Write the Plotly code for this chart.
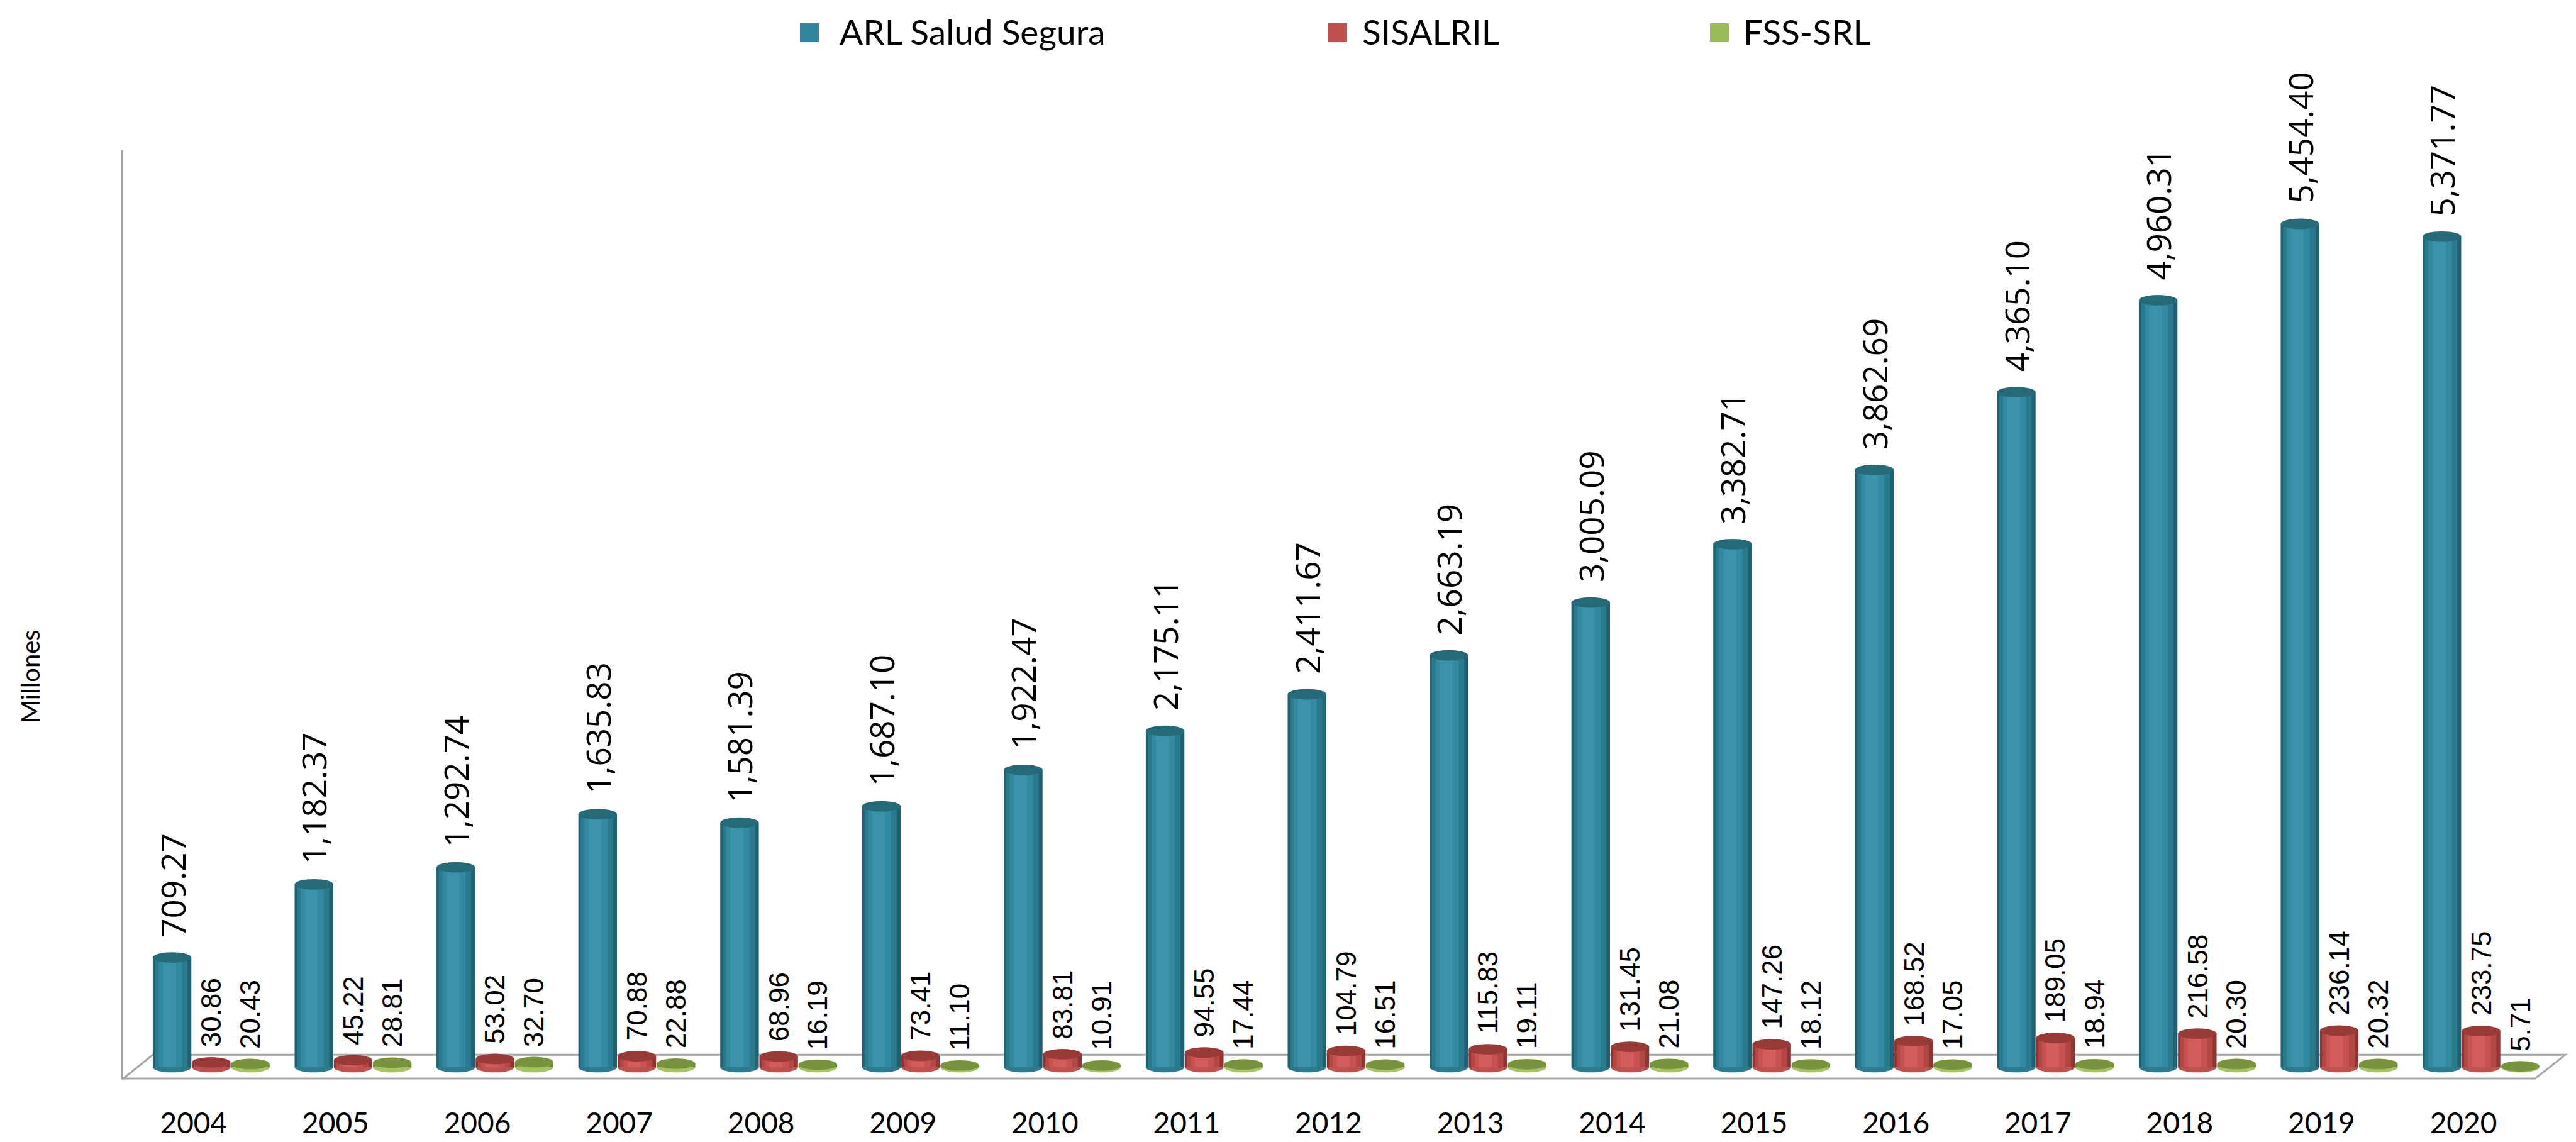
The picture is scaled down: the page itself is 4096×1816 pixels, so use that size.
import plotly.graph_objects as go

# ---------------- data ----------------
years = [str(y) for y in range(2004, 2021)]
arl_salud_segura = [709.27, 1182.37, 1292.74, 1635.83, 1581.39, 1687.10, 1922.47, 2175.11,
                    2411.67, 2663.19, 3005.09, 3382.71, 3862.69, 4365.10, 4960.31, 5454.40, 5371.77]
sisalril = [30.86, 45.22, 53.02, 70.88, 68.96, 73.41, 83.81, 94.55,
            104.79, 115.83, 131.45, 147.26, 168.52, 189.05, 216.58, 236.14, 233.75]
fss_srl = [20.43, 28.81, 32.70, 22.88, 16.19, 11.10, 10.91, 17.44,
           16.51, 19.11, 21.08, 18.12, 17.05, 18.94, 20.30, 20.32, 5.71]
series_names = ["ARL Salud Segura", "SISALRIL", "FSS-SRL"]
y_title = "Millones"

# ---------------- layout constants ----------------
W_PX, H_PX = 4096, 1816
M_L, M_R, M_T, M_B = 188, 25, 231, 94
PLOT_W = W_PX - M_L - M_R
PLOT_H = H_PX - M_T - M_B
X_RANGE = [-0.620, 16.594]
Y_RANGE = [-77.4, 5930]
BAR_STEP = 0.276
BAR_W = 0.272
ELL = 34  # half height of cylinder ellipses (y units)


def px_x(px):
    return (px - M_L) / PLOT_W


def px_y(py):
    return (H_PX - M_B - py) / PLOT_H


styles = [
    dict(layers=["#1f6172", "#2a7a8e", "#3289a0", "#3a93ab"], top="#266a7a", bottom="#2b7a8e",
         legend="#31859c", font=dict(family="Open Sans", size=53, color="black"), gap=30),
    dict(layers=["#8e3432", "#b24744", "#c65350", "#d25d5a"], top="#973a38", bottom="#c0504d",
         legend="#c0504d", font=dict(family="Liberation Sans", size=44, color="black"), gap=22),
    dict(layers=["#6c8733", "#88a94a", "#98ba57", "#a6c766"], top="#77933c", bottom="#a5c563",
         legend="#9bbb59", font=dict(family="Liberation Sans", size=44, color="black"), gap=22),
]
layer_frac = [1.0, 0.84, 0.6, 0.34]
layer_off = [0.0, -0.02, -0.045, -0.07]

all_series = [arl_salud_segura, sisalril, fss_srl]

fig = go.Figure()
shapes = []
annotations = []

# floor (3D base)
floor_pts = [(188, 1721), (235, 1683), (4071, 1683), (4023, 1721)]
path = "M " + " L ".join(f"{px_x(a):.5f},{px_y(b):.5f}" for a, b in floor_pts) + " Z"
shapes.append(dict(type="path", path=path, xref="paper", yref="paper",
                   line=dict(color="#a6a6a6", width=3), fillcolor="white", layer="below"))

for s, (name, vals, st) in enumerate(zip(series_names, all_series, styles)):
    d = (s - 1) * BAR_STEP
    centers = [i + d for i in range(len(years))]
    for k, (frac, off, col) in enumerate(zip(layer_frac, layer_off, st["layers"])):
        fig.add_trace(go.Bar(
            x=[c + off * BAR_W for c in centers], y=vals, width=BAR_W * frac,
            marker=dict(color=col, line=dict(width=0)), name=name,
            showlegend=False, hoverinfo="skip" if k else "y",
        ))
    for c, v in zip(centers, vals):
        # rounded bottom of the cylinder
        shapes.append(dict(type="circle", xref="x", yref="y", x0=c - BAR_W / 2, x1=c + BAR_W / 2,
                           y0=-ELL, y1=ELL, fillcolor=st["bottom"], line=dict(width=0), layer="below"))
        # top cap
        shapes.append(dict(type="circle", xref="x", yref="y", x0=c - BAR_W / 2, x1=c + BAR_W / 2,
                           y0=v - ELL, y1=v + ELL, fillcolor=st["top"], line=dict(width=0), layer="above"))
        annotations.append(dict(x=c, y=v, xref="x", yref="y", text=f"{v:,.2f}", textangle=-90,
                                showarrow=False, xanchor="center", yanchor="bottom",
                                yshift=st["gap"], font=st["font"]))

# legend (drawn manually to get the large square keys)
legend_marker_x = [1279, 2119, 2726]
legend_text_x = [1325, 2156, 2762]
for name, st, mx, tx in zip(series_names, styles, legend_marker_x, legend_text_x):
    shapes.append(dict(type="rect", xref="paper", yref="paper",
                       x0=px_x(mx - 15), x1=px_x(mx + 15), y0=px_y(57), y1=px_y(27),
                       fillcolor=st["legend"], line=dict(width=0)))
    annotations.append(dict(x=px_x(tx), y=px_y(40), xref="paper", yref="paper", text=name,
                            showarrow=False, xanchor="left", yanchor="middle",
                            font=dict(family="Lato", size=55, color="black")))

annotations.append(dict(x=px_x(40), y=px_y(1076), xref="paper", yref="paper", text=y_title,
                        textangle=-90, showarrow=False, xanchor="center", yanchor="middle",
                        font=dict(family="Lato", size=40, color="black")))

fig.update_layout(
    width=W_PX, height=H_PX,
    margin=dict(l=M_L, r=M_R, t=M_T, b=M_B),
    paper_bgcolor="white", plot_bgcolor="white",
    barmode="overlay", showlegend=False,
    shapes=shapes, annotations=annotations,
    xaxis=dict(range=X_RANGE, tickvals=list(range(len(years))), ticktext=years,
               showgrid=False, zeroline=False, showline=False,
               ticks="outside", ticklen=30, tickcolor="rgba(0,0,0,0)",
               ticklabelshift=-28,
               tickfont=dict(family="Lato", size=46, color="black")),
    yaxis=dict(range=Y_RANGE, showgrid=False, zeroline=False, showticklabels=False,
               showline=True, linecolor="#a6a6a6", linewidth=3, ticks=""),
)

fig.write_html("out.html")
